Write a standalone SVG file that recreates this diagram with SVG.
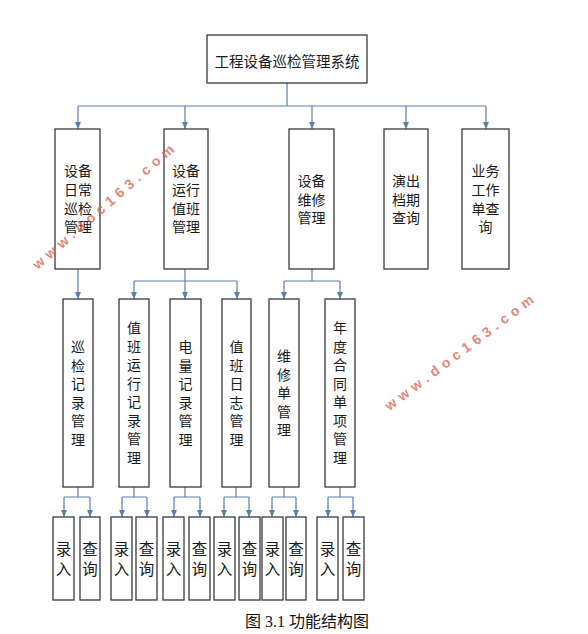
<svg xmlns="http://www.w3.org/2000/svg" width="588" height="634" viewBox="0 0 588 634">
<style>
.box{fill:#fff;stroke:#3a3a3a;stroke-width:1.3}
.t{font-family:"Noto Sans CJK SC","Noto Sans",sans-serif;fill:#1a1a1a;text-anchor:middle;dominant-baseline:central}
.c{fill:none;stroke:#5a7db0;stroke-width:1.2}
.wm{font-family:"Liberation Sans",Arial,sans-serif;font-weight:bold;font-size:14px;letter-spacing:5px;fill:#d9604f;opacity:0.75;text-anchor:middle;dominant-baseline:central}
.cap{font-family:"Liberation Serif","Noto Sans CJK SC",serif;font-size:16px;fill:#111;text-anchor:middle;dominant-baseline:central}
</style>
<defs>
<marker id="ah" markerUnits="userSpaceOnUse" markerWidth="7" markerHeight="6" refX="7" refY="3" orient="auto">
<path d="M0,0 L7,3 L0,6 z" fill="#5a7db0"/>
</marker>
</defs>
<rect width="588" height="634" fill="#fff"/>

<g id="connectors">
<path class="c" d="M287,83 V106 M78,106 H486"/>
<path class="c" marker-end="url(#ah)" d="M78,106 V129"/>
<path class="c" marker-end="url(#ah)" d="M185,106 V129"/>
<path class="c" marker-end="url(#ah)" d="M312,106 V129"/>
<path class="c" marker-end="url(#ah)" d="M406,106 V129"/>
<path class="c" marker-end="url(#ah)" d="M486,106 V129"/>

<path class="c" marker-end="url(#ah)" d="M78,269 V299"/>
<path class="c" d="M185,269 V281 M134,281 H237"/>
<path class="c" marker-end="url(#ah)" d="M134,281 V299"/>
<path class="c" marker-end="url(#ah)" d="M185,281 V299"/>
<path class="c" marker-end="url(#ah)" d="M237,281 V299"/>
<path class="c" d="M312,269 V281 M284,281 H340"/>
<path class="c" marker-end="url(#ah)" d="M284,281 V299"/>
<path class="c" marker-end="url(#ah)" d="M340,281 V299"/>

<path class="c" d="M78,487 V497 M64,497 H90"/>
<path class="c" marker-end="url(#ah)" d="M64,497 V517"/>
<path class="c" marker-end="url(#ah)" d="M90,497 V517"/>
<path class="c" d="M134,487 V497 M122,497 H147"/>
<path class="c" marker-end="url(#ah)" d="M122,497 V517"/>
<path class="c" marker-end="url(#ah)" d="M147,497 V517"/>
<path class="c" d="M185,487 V497 M174,497 H200"/>
<path class="c" marker-end="url(#ah)" d="M174,497 V517"/>
<path class="c" marker-end="url(#ah)" d="M200,497 V517"/>
<path class="c" d="M236,487 V497 M224,497 H249"/>
<path class="c" marker-end="url(#ah)" d="M224,497 V517"/>
<path class="c" marker-end="url(#ah)" d="M249,497 V517"/>
<path class="c" d="M284,487 V497 M272,497 H296"/>
<path class="c" marker-end="url(#ah)" d="M272,497 V517"/>
<path class="c" marker-end="url(#ah)" d="M296,497 V517"/>
<path class="c" d="M340,487 V497 M328,497 H353"/>
<path class="c" marker-end="url(#ah)" d="M328,497 V517"/>
<path class="c" marker-end="url(#ah)" d="M353,497 V517"/>
</g>

<g id="root">
<rect class="box" x="207" y="35" width="160" height="48"/>
<text class="t" x="287" y="60" font-size="14.5">工程设备巡检管理系统</text>
</g>

<g id="n1">
<rect class="box" x="55" y="129" width="45" height="140"/>
<text class="t" font-size="14"><tspan x="78" y="170">设备</tspan><tspan x="78" y="189">日常</tspan><tspan x="78" y="207.5">巡检</tspan><tspan x="78" y="226">管理</tspan></text>
</g>
<g id="n2">
<rect class="box" x="164" y="129" width="44" height="140"/>
<text class="t" font-size="14"><tspan x="186" y="170">设备</tspan><tspan x="186" y="189">运行</tspan><tspan x="186" y="207.5">值班</tspan><tspan x="186" y="226">管理</tspan></text>
</g>
<g id="n3">
<rect class="box" x="289" y="129" width="45" height="140"/>
<text class="t" font-size="14"><tspan x="311.5" y="180">设备</tspan><tspan x="311.5" y="198.5">维修</tspan><tspan x="311.5" y="217">管理</tspan></text>
</g>
<g id="n4">
<rect class="box" x="384" y="129" width="44" height="140"/>
<text class="t" font-size="14"><tspan x="406" y="180">演出</tspan><tspan x="406" y="198.5">档期</tspan><tspan x="406" y="217">查询</tspan></text>
</g>
<g id="n5">
<rect class="box" x="462" y="129" width="47" height="140"/>
<text class="t" font-size="14"><tspan x="485.5" y="170">业务</tspan><tspan x="485.5" y="189">工作</tspan><tspan x="485.5" y="207.5">单查</tspan><tspan x="485.5" y="226">询</tspan></text>
</g>

<g id="m1">
<rect class="box" x="63" y="299" width="30" height="188"/>
<text class="t" font-size="14"><tspan x="78" y="346">巡</tspan><tspan x="78" y="364.5">检</tspan><tspan x="78" y="383">记</tspan><tspan x="78" y="401.5">录</tspan><tspan x="78" y="420">管</tspan><tspan x="78" y="438.5">理</tspan></text>
</g>
<g id="m2">
<rect class="box" x="119" y="299" width="30" height="188"/>
<text class="t" font-size="14"><tspan x="134" y="327">值</tspan><tspan x="134" y="345.5">班</tspan><tspan x="134" y="364">运</tspan><tspan x="134" y="382.5">行</tspan><tspan x="134" y="401">记</tspan><tspan x="134" y="419.5">录</tspan><tspan x="134" y="438">管</tspan><tspan x="134" y="456.5">理</tspan></text>
</g>
<g id="m3">
<rect class="box" x="170" y="299" width="31" height="188"/>
<text class="t" font-size="14"><tspan x="185.5" y="346">电</tspan><tspan x="185.5" y="364.5">量</tspan><tspan x="185.5" y="383">记</tspan><tspan x="185.5" y="401.5">录</tspan><tspan x="185.5" y="420">管</tspan><tspan x="185.5" y="438.5">理</tspan></text>
</g>
<g id="m4">
<rect class="box" x="222" y="299" width="29" height="188"/>
<text class="t" font-size="14"><tspan x="236.5" y="346">值</tspan><tspan x="236.5" y="364.5">班</tspan><tspan x="236.5" y="383">日</tspan><tspan x="236.5" y="401.5">志</tspan><tspan x="236.5" y="420">管</tspan><tspan x="236.5" y="438.5">理</tspan></text>
</g>
<g id="m5">
<rect class="box" x="269" y="299" width="30" height="188"/>
<text class="t" font-size="14"><tspan x="284" y="355">维</tspan><tspan x="284" y="373.5">修</tspan><tspan x="284" y="392">单</tspan><tspan x="284" y="410.5">管</tspan><tspan x="284" y="429">理</tspan></text>
</g>
<g id="m6">
<rect class="box" x="325" y="299" width="30" height="188"/>
<text class="t" font-size="14"><tspan x="340" y="327">年</tspan><tspan x="340" y="345.5">度</tspan><tspan x="340" y="364">合</tspan><tspan x="340" y="382.5">同</tspan><tspan x="340" y="401">单</tspan><tspan x="340" y="419.5">项</tspan><tspan x="340" y="438">管</tspan><tspan x="340" y="456.5">理</tspan></text>
</g>

<g id="b1a"><rect class="box" x="53" y="517" width="21" height="83"/><text class="t" font-size="15.5"><tspan x="63.5" y="548">录</tspan><tspan x="63.5" y="568">入</tspan></text></g>
<g id="b1b"><rect class="box" x="80" y="517" width="20" height="83"/><text class="t" font-size="15.5"><tspan x="90" y="548">查</tspan><tspan x="90" y="568">询</tspan></text></g>
<g id="b2a"><rect class="box" x="111" y="517" width="21" height="83"/><text class="t" font-size="15.5"><tspan x="121.5" y="548">录</tspan><tspan x="121.5" y="568">入</tspan></text></g>
<g id="b2b"><rect class="box" x="136" y="517" width="21" height="83"/><text class="t" font-size="15.5"><tspan x="146.5" y="548">查</tspan><tspan x="146.5" y="568">询</tspan></text></g>
<g id="b3a"><rect class="box" x="163" y="517" width="21" height="83"/><text class="t" font-size="15.5"><tspan x="173.5" y="548">录</tspan><tspan x="173.5" y="568">入</tspan></text></g>
<g id="b3b"><rect class="box" x="189" y="517" width="21" height="83"/><text class="t" font-size="15.5"><tspan x="199.5" y="548">查</tspan><tspan x="199.5" y="568">询</tspan></text></g>
<g id="b4a"><rect class="box" x="214" y="517" width="21" height="83"/><text class="t" font-size="15.5"><tspan x="224.5" y="548">录</tspan><tspan x="224.5" y="568">入</tspan></text></g>
<g id="b4b"><rect class="box" x="239" y="517" width="21" height="83"/><text class="t" font-size="15.5"><tspan x="249.5" y="548">查</tspan><tspan x="249.5" y="568">询</tspan></text></g>
<g id="b5a"><rect class="box" x="262" y="517" width="21" height="83"/><text class="t" font-size="15.5"><tspan x="272.5" y="548">录</tspan><tspan x="272.5" y="568">入</tspan></text></g>
<g id="b5b"><rect class="box" x="286" y="517" width="20" height="83"/><text class="t" font-size="15.5"><tspan x="296" y="548">查</tspan><tspan x="296" y="568">询</tspan></text></g>
<g id="b6a"><rect class="box" x="317" y="517" width="21" height="83"/><text class="t" font-size="15.5"><tspan x="327.5" y="548">录</tspan><tspan x="327.5" y="568">入</tspan></text></g>
<g id="b6b"><rect class="box" x="343" y="517" width="21" height="83"/><text class="t" font-size="15.5"><tspan x="353.5" y="548">查</tspan><tspan x="353.5" y="568">询</tspan></text></g>

<text class="cap" x="307" y="621">图 3.1 功能结构图</text>

<text class="wm" transform="translate(105,205) rotate(-41)">www.doc163.com</text>
<text class="wm" transform="translate(461,351) rotate(-37)">www.doc163.com</text>
</svg>
